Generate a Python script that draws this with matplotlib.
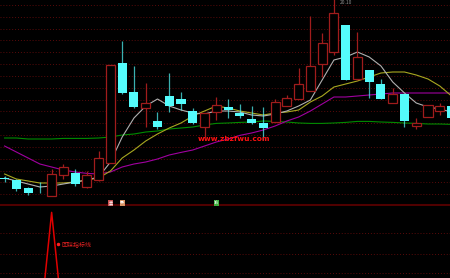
import numpy as np
import matplotlib.pyplot as plt

plt.rcParams['font.family'] = ['Noto Sans CJK SC', 'DejaVu Sans']

# daily bars (price)
opens = [11.10, 11.00, 10.60, 10.40, 10.20, 11.25, 11.35, 10.65, 11.00, 11.85,
         16.85, 15.40, 14.60, 13.95, 15.20, 15.05, 14.45, 13.65, 14.40, 14.65,
         14.35, 14.05, 13.85, 13.90, 14.70, 15.05, 15.45, 16.80, 17.40, 18.75,
         16.05, 16.50, 15.80, 14.85, 15.30, 13.70, 14.15, 14.45, 14.70]
highs = [11.20, 11.05, 10.65, 10.90, 11.55, 11.80, 11.55, 11.45, 12.45, 16.75,
         17.95, 16.70, 15.85, 14.40, 16.35, 15.40, 14.60, 14.35, 15.15, 15.05,
         14.80, 14.70, 14.65, 15.05, 15.25, 16.60, 19.20, 18.35, 20.10, 18.75,
         18.40, 16.50, 16.05, 15.60, 15.30, 14.10, 14.75, 14.85, 14.70]
lows = [10.90, 10.45, 10.25, 10.35, 10.20, 11.05, 10.70, 10.60, 10.95, 11.85,
        15.30, 14.60, 13.65, 13.55, 14.40, 14.50, 13.80, 13.15, 14.00, 14.10,
        14.10, 13.80, 13.00, 13.90, 14.70, 15.05, 15.45, 16.15, 17.25, 16.00,
        16.00, 15.10, 15.05, 14.85, 13.65, 13.55, 14.15, 14.25, 14.10]
closes = [11.05, 10.55, 10.35, 10.38, 11.30, 11.65, 10.80, 11.25, 12.10, 16.75,
          15.35, 14.65, 14.85, 13.65, 14.70, 14.80, 13.85, 14.35, 14.75, 14.50,
          14.20, 13.85, 13.60, 14.90, 15.10, 15.80, 16.70, 17.85, 19.35, 16.00,
          17.15, 15.90, 15.05, 15.30, 13.95, 13.85, 14.75, 14.70, 14.10]

ma5 = [11.10, 10.95, 10.80, 10.65, 10.70, 10.80, 10.90, 11.00, 11.15, 11.90,
       13.15, 14.10, 14.70, 15.05, 14.70, 14.50, 14.35, 14.30, 14.45, 14.45,
       14.40, 14.25, 14.20, 14.30, 14.45, 14.70, 15.00, 16.00, 17.00, 17.15,
       17.40, 17.15, 16.70, 15.90, 15.35, 14.85, 14.65, 14.55, 14.40]
ma10 = [11.30, 11.05, 10.95, 10.85, 10.85, 10.85, 10.90, 11.00, 11.10, 11.45,
        12.10, 12.50, 12.95, 13.30, 13.60, 13.85, 14.20, 14.45, 14.70, 14.60,
        14.45, 14.35, 14.25, 14.35, 14.40, 14.50, 14.90, 15.20, 15.65, 15.80,
        15.95, 16.15, 16.35, 16.40, 16.40, 16.25, 16.05, 15.70, 15.20]
ma20 = [12.70, 12.40, 12.10, 11.80, 11.65, 11.50, 11.40, 11.33, 11.30, 11.40,
        11.65, 11.80, 11.90, 12.05, 12.25, 12.38, 12.50, 12.70, 12.90, 13.05,
        13.23, 13.35, 13.50, 13.70, 13.95, 14.15, 14.45, 14.80, 15.15, 15.15,
        15.20, 15.25, 15.30, 15.35, 15.35, 15.35, 15.35, 15.35, 15.35]
ma60 = [13.10, 13.10, 13.05, 13.05, 13.05, 13.08, 13.08, 13.08, 13.10, 13.15,
        13.25, 13.30, 13.40, 13.45, 13.55, 13.60, 13.65, 13.75, 13.83, 13.85,
        13.88, 13.90, 13.95, 13.93, 13.90, 13.85, 13.83, 13.83, 13.85, 13.88,
        13.93, 13.93, 13.90, 13.88, 13.85, 13.83, 13.80, 13.80, 13.78]

# signal markers under the bars
sig_idx = [9, 10, 18]
sig_text = ['卖', '买', '涨']
sig_color = ['#c85050', '#d89060', '#40b040']

# lower indicator
ind = [0, 0, 0, 0, 1, 0, 0, 0, 0, 0, 0, 0, 0, 0, 0, 0, 0, 0, 0, 0,
       0, 0, 0, 0, 0, 0, 0, 0, 0, 0, 0, 0, 0, 0, 0, 0, 0, 0, 0]
ind_label = '回踩指标线'

RED = '#a01c1c'
CYAN = '#54fcfc'
GRID = '#5a0a0a'

fig = plt.figure(figsize=(4.5, 2.78), dpi=100, facecolor='black')
h_main = 205.5 / 278
ax = fig.add_axes([0, 1 - h_main, 1, h_main])
ax2 = fig.add_axes([0, 0, 1, 1 - h_main])

x = np.arange(len(opens))
o = np.array(opens)
c = np.array(closes)
hi = np.array(highs)
lo = np.array(lows)
up = c >= o
up[0] = False   # doji bars drawn in cyan
up[3] = False
top = np.maximum(o, c)
bot = np.minimum(o, c)
w = 0.77

for ax_ in (ax, ax2):
    ax_.set_facecolor('black')
    for s in ax_.spines.values():
        s.set_visible(False)
    ax_.set_xticks([])
    ax_.tick_params(left=False, labelleft=False)
    ax_.set_xlim(-0.39, 37.87)

ax.set_ylim(9.725, 20.0)
ax.set_yticks(np.linspace(10.285, 19.75, 17))
ax.grid(axis='y', color=GRID, linestyle=(0, (1, 2)), linewidth=0.7)
ax.set_axisbelow(True)

# moving averages
ax.plot(x, ma60, color='#008c00', lw=0.8)
ax.plot(x, ma20, color='#a000a0', lw=0.8)
ax.plot(x, ma10, color='#a8a820', lw=0.8)
ax.plot(x, ma5, color='#b0b0b0', lw=0.8)

# wicks
ax.vlines(x[up], top[up], hi[up], color=RED, lw=0.9)
ax.vlines(x[up], lo[up], bot[up], color=RED, lw=0.9)
ax.vlines(x[~up], lo[~up], hi[~up], color=CYAN, lw=0.9, alpha=0.7)
# bodies
body_h = np.maximum(top - bot, 0.04)
ax.bar(x[up], body_h[up], w, bottom=bot[up], facecolor='black',
       edgecolor=RED, lw=0.9, zorder=3)
ax.bar(x[~up], body_h[~up], w, bottom=bot[~up], color=CYAN, lw=0, zorder=3)

# highest price label
k = int(np.argmax(hi))
ax.text(x[k] + 0.5, 19.98, f'{hi[k]:.2f}', color='#909090', fontsize=3.5,
        va='top', ha='left')

ax.text(0.52, 0.324, 'www.zbzfwu.com', transform=ax.transAxes, color='#ff1010',
        fontsize=5.3, fontweight='bold', ha='center', va='center', family='DejaVu Sans')

for i, t, col in zip(sig_idx, sig_text, sig_color):
    ax.text(x[i], 9.85, t, color='white', fontsize=3, ha='center', va='center',
            bbox=dict(boxstyle='square,pad=0.15', fc=col, ec='none'))

# separator
ax.axhline(9.725, color='#500000', lw=2.2, clip_on=False)

# lower panel
ax2.set_ylim(0.43, 1.06)
ax2.set_yticks([0.475, 0.64, 0.825])
ax2.grid(axis='y', color=GRID, linestyle=(0, (1, 2)), linewidth=0.7)
ax2.plot(x, ind, color='#e00000', lw=1.1)
ax2.plot([0.128], [0.47], 'o', color='#ff2020', ms=1.5, transform=ax2.transAxes)
ax2.text(0.136, 0.47, ind_label, color='#e02020', fontsize=4.3, ha='left',
         va='center', transform=ax2.transAxes)

fig.savefig('out.png', dpi=100, facecolor='black')
